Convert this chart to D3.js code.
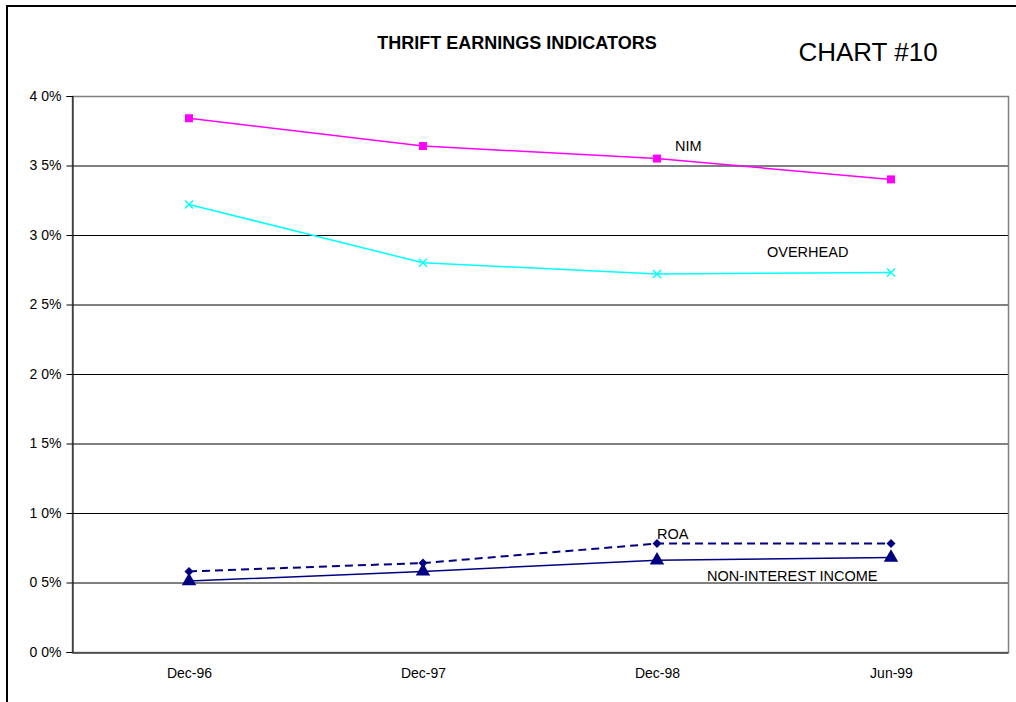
<!DOCTYPE html>
<html>
<head>
<meta charset="utf-8">
<script src="https://cdn.jsdelivr.net/npm/d3@7"></script>
<style>
  body { margin: 0; background: #fff; }
  text { font-family: "Liberation Sans", Arial, sans-serif; }
</style>
</head>
<body>
<svg id="chart" width="1016" height="702"></svg>
<script>
// chart data
var periods = ["Dec-96", "Dec-97", "Dec-98", "Jun-99"];
var nim = [3.84, 3.64, 3.55, 3.40];
var overhead = [3.22, 2.80, 2.72, 2.73];
var roa = [0.58, 0.64, 0.78, 0.78];
var nonInterest = [0.51, 0.58, 0.66, 0.68];
var yTicks = [0, 0.5, 1, 1.5, 2, 2.5, 3, 3.5, 4];
var yTickLabels = ["0 0%", "0 5%", "1 0%", "1 5%", "2 0%", "2 5%", "3 0%", "3 5%", "4 0%"];

var margin = {top: 96, right: 8, bottom: 50, left: 72},
	width = 1016 - margin.left - margin.right,
	height = 702 - margin.top - margin.bottom;

var svg = d3.select("#chart");

// outer frame
svg.append("rect")
	.attr("x", 7).attr("y", 6)
	.attr("width", 1016).attr("height", 702)
	.attr("fill", "none")
	.attr("stroke", "#000")
	.attr("stroke-width", 2);

svg.append("text")
	.attr("x", 517).attr("y", 49)
	.attr("text-anchor", "middle")
	.attr("font-size", "18px")
	.attr("font-weight", "bold")
	.text("THRIFT EARNINGS INDICATORS");

svg.append("text")
	.attr("x", 868).attr("y", 61)
	.attr("text-anchor", "middle")
	.attr("font-size", "26px")
	.text("CHART #10");

var x = d3.scalePoint().domain(periods).range([0, width]).padding(0.5);
var y = d3.scaleLinear().domain([0, 4]).range([height, 0]);

var g = svg.append("g")
	.attr("transform", "translate(" + margin.left + "," + margin.top + ")");

// gridlines
g.append("g")
	.selectAll("line")
	.data(yTicks.slice(1, -1))
	.enter()
	.append("line")
	.attr("x1", 0).attr("x2", width)
	.attr("y1", function(d) { return y(d) + 0.5; })
	.attr("y2", function(d) { return y(d) + 0.5; })
	.attr("stroke", "#000")
	.attr("stroke-width", 1);

// plot frame
g.append("rect")
	.attr("x", 0.5).attr("y", 0.5)
	.attr("width", width).attr("height", height)
	.attr("fill", "none")
	.attr("stroke", "#808080")
	.attr("stroke-width", 1.5);

var yAxis = g.append("g")
	.attr("transform", "translate(0.5,0)")
	.call(d3.axisLeft(y).tickValues(yTicks).tickSize(6).tickPadding(5)
		.tickFormat(function(d, i) { return yTickLabels[i]; }));
yAxis.select(".domain").attr("stroke", "#000");
yAxis.selectAll("text").attr("font-size", "14px").attr("font-family", "Liberation Sans, Arial, sans-serif").attr("fill", "#000");

var xAxis = g.append("g")
	.attr("transform", "translate(0," + (height + 0.5) + ")")
	.call(d3.axisBottom(x).tickSize(0).tickPadding(16));
xAxis.select(".domain").attr("stroke", "#404040").attr("stroke-width", 1.5);
xAxis.selectAll("text").attr("font-size", "14px").attr("font-family", "Liberation Sans, Arial, sans-serif").attr("fill", "#000");

function appendSeries(values, color, dash, symbol, size) {
	var line = d3.line()
		.x(function(d, i) { return x(periods[i]); })
		.y(function(d) { return y(d); });
	g.append("path")
		.datum(values)
		.attr("fill", "none")
		.attr("stroke", color)
		.attr("stroke-width", dash ? 2 : 1.5)
		.attr("stroke-dasharray", dash ? "8,5" : null)
		.attr("d", line);
	var pts = g.append("g")
		.selectAll("path")
		.data(values)
		.enter()
		.append("path")
		.attr("transform", function(d, i) { return "translate(" + x(periods[i]) + "," + y(d) + ")"; });
	if (symbol === "x") {
		pts.attr("d", "M-4,-4L4,4M-4,4L4,-4")
			.attr("stroke", color).attr("stroke-width", 1.5).attr("fill", "none");
	} else if (symbol === "diamond") {
		pts.attr("d", "M0,-4.5L4.5,0L0,4.5L-4.5,0Z")
			.attr("fill", color);
	} else {
		pts.attr("d", d3.symbol().type(symbol).size(size))
			.attr("fill", color);
	}
}

appendSeries(nim, "#ff00ff", false, d3.symbolSquare, 64);
appendSeries(overhead, "#00ffff", false, "x", 0);
appendSeries(roa, "#000080", true, "diamond", 0);
appendSeries(nonInterest, "#000080", false, d3.symbolTriangle, 90);

// series labels
var labels = [
	{text: "NIM", px: 675, py: 151},
	{text: "OVERHEAD", px: 767, py: 257},
	{text: "ROA", px: 657, py: 539},
	{text: "NON-INTEREST INCOME", px: 707, py: 581}
];
svg.append("g")
	.selectAll("text")
	.data(labels)
	.enter()
	.append("text")
	.attr("x", function(d) { return d.px; })
	.attr("y", function(d) { return d.py; })
	.attr("font-size", "14.5px")
	.text(function(d) { return d.text; });
</script>
</body>
</html>
